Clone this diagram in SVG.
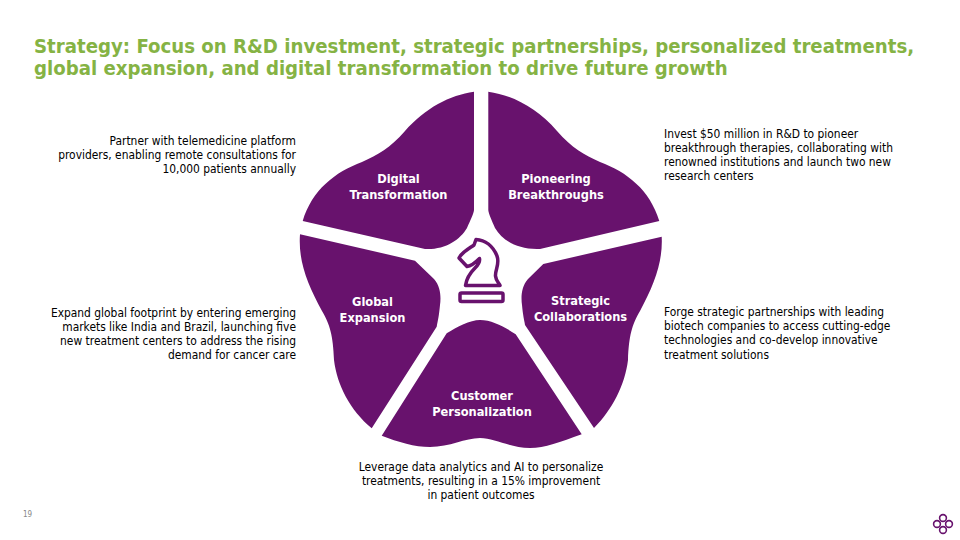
<svg xmlns="http://www.w3.org/2000/svg" width="960" height="540" viewBox="0 0 960 540">
<style>
.petal{fill:#68126d}
.t{font-family:"DejaVu Sans Condensed","Noto Sans",sans-serif}
.title{font-size:20.2px;font-weight:700;fill:#85b344}
.label{font-size:12.700px;font-weight:700;fill:#fff;text-anchor:middle}
.body{font-size:11.900px;fill:#000}
.r{text-anchor:end}
.c{text-anchor:middle}
</style>
<rect width="960" height="540" fill="#fff"/>
<g id="title" class="t title">
<text x="34" y="53">Strategy: Focus on R&amp;D investment, strategic partnerships, personalized treatments,</text>
<text x="34" y="75">global expansion, and digital transformation to drive future growth</text>
</g>
<g id="digital">
<path class="petal" d="M474 91.7C450 95 425 108 405 131C390 148 378 155 362 162C335 172 312 190 302.7 221L425 249C445 250 460 240 467 228C470 221 474 213 474 210Z"/>
<text class="t label" x="398.500" y="183">Digital</text>
<text class="t label" x="398.500" y="199">Transformation</text>
</g>
<g id="pioneering">
<path class="petal" d="M488.300 91.700C512 95 537 108 557 131C572 148 584 155 600 162C627 172 650 190 659.300 221L540 249C517 250 502 240 495 228C492 221 488.300 213 488.300 210Z"/>
<text class="t label" x="556" y="183">Pioneering</text>
<text class="t label" x="556" y="199">Breakthroughs</text>
</g>
<g id="global">
<path class="petal" d="M300 234.300L415 260.700L434 279C441 287 441 298 440 305C439 316 438 320 436.700 326.700L371.700 428.300C350 410 337 385 334 360C333 335 330 325 322 311C308 285 298 262 300 234.300Z"/>
<text class="t label" x="372.500" y="306">Global</text>
<text class="t label" x="372.500" y="322">Expansion</text>
</g>
<g id="strategic">
<path class="petal" d="M661.700 236.700C663 262 654 285 640 311C632 325 629 335 628 360C625 385 612 410 594 428L525 325C524 319 523 316 522 305C521 298 521 287 528 279L543.300 264Z"/>
<text class="t label" x="580.500" y="305">Strategic</text>
<text class="t label" x="580.500" y="321">Collaborations</text>
</g>
<g id="customer">
<path class="petal" d="M446.700 333.300C457 327 470 320 480 320C492 320 505 327 515.700 334.300L581.700 434.300C560 442 545 448 530 448C510 448 495 438 480 438C465 438 450 447 430 447C415 447 398 442 381.700 435.700Z"/>
<text class="t label" x="482" y="400">Customer</text>
<text class="t label" x="482" y="416">Personalization</text>
</g>
<g id="knight" fill="none" stroke="#68126d" stroke-width="3.500" stroke-linejoin="round" stroke-linecap="round">
<path d="M465.500 285.500C466.500 278 470 273 475 268C479 264 480 261 479.500 258.500C476 262 472 266 467 266.500L459 258C462 252 470 248 474 245L476 239.500C485 240 493 246 497 256C500 264 495 270 495.500 276C496 281 499 283 500 285.500Z"/>
<rect x="460" y="293" width="43" height="8.500" rx="1.500"/>
</g>
<g id="text-digital" class="t body r">
<text x="296" y="145">Partner with telemedicine platform</text>
<text x="296" y="159">providers, enabling remote consultations for</text>
<text x="296" y="173">10,000 patients annually</text>
</g>
<g id="text-pioneering" class="t body">
<text x="664" y="138">Invest $50 million in R&amp;D to pioneer</text>
<text x="664" y="152">breakthrough therapies, collaborating with</text>
<text x="664" y="166">renowned institutions and launch two new</text>
<text x="664" y="180">research centers</text>
</g>
<g id="text-global" class="t body r">
<text x="296" y="317">Expand global footprint by entering emerging</text>
<text x="296" y="331">markets like India and Brazil, launching five</text>
<text x="296" y="345">new treatment centers to address the rising</text>
<text x="296" y="359">demand for cancer care</text>
</g>
<g id="text-strategic" class="t body">
<text x="664" y="316">Forge strategic partnerships with leading</text>
<text x="664" y="330">biotech companies to access cutting-edge</text>
<text x="664" y="344">technologies and co-develop innovative</text>
<text x="664" y="359">treatment solutions</text>
</g>
<g id="text-customer" class="t body c">
<text x="481" y="471">Leverage data analytics and AI to personalize</text>
<text x="481" y="485">treatments, resulting in a 15% improvement</text>
<text x="481" y="499">in patient outcomes</text>
</g>
<text id="page" class="t" x="23" y="517" font-size="8" fill="#888">19</text>
<g id="logo" fill="none" stroke="#68126d" stroke-width="1.600">
<circle cx="943" cy="518" r="3.400"/>
<circle cx="943" cy="530" r="3.400"/>
<circle cx="937" cy="524" r="3.400"/>
<circle cx="949" cy="524" r="3.400"/>
</g>
</svg>
